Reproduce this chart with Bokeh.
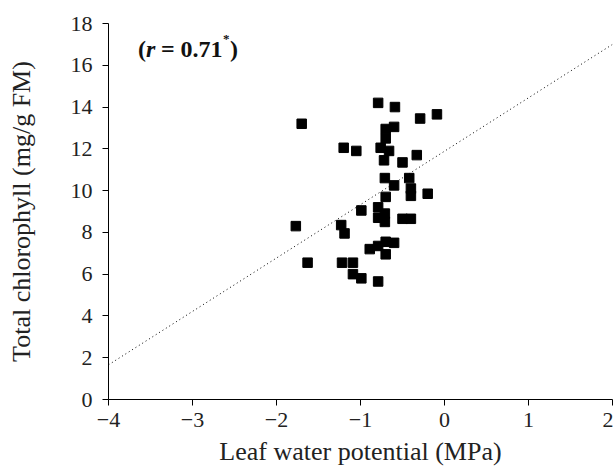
from bokeh.plotting import figure
from bokeh.models import Range1d, FixedTicker, Label
from bokeh.embed import file_html
from bokeh.resources import INLINE

# Data
leaf_wp = [-1.70, -0.79, -0.59, -1.20, -1.05, -0.70, -0.60, -0.70, -0.76, -0.66,
           -0.72, -0.29, -0.09, -0.50, -0.33, -0.71, -0.42, -0.60, -0.40, -0.40,
           -0.20, -0.70, -0.99, -0.79, -0.79, -0.71, -0.71, -1.77, -1.23, -1.19,
           -0.50, -0.40, -1.63, -1.22, -1.09, -1.09, -0.99, -0.79, -0.89, -0.79,
           -0.70, -0.60, -0.70]
chlorophyll = [13.2, 14.2, 14.0, 12.05, 11.9, 12.95, 13.05, 12.5, 12.05, 11.9,
               11.45, 13.45, 13.65, 11.35, 11.7, 10.6, 10.6, 10.25, 10.1, 9.75,
               9.85, 9.7, 9.05, 9.2, 8.7, 8.9, 8.5, 8.3, 8.35, 7.95,
               8.65, 8.65, 6.55, 6.55, 6.55, 6.0, 5.8, 5.65, 7.2, 7.35,
               7.55, 7.5, 6.95]

fit_x = [-4.0, 2.0]
fit_y = [1.66, 17.0]

x_ticks = [-4, -3, -2, -1, 0, 1, 2]
x_tick_labels = ["\u22124", "\u22123", "\u22122", "\u22121", "0", "1", "2"]
y_ticks = [0, 2, 4, 6, 8, 10, 12, 14, 16, 18]

FONT = "Liberation Serif"

p = figure(width=613, height=468, x_range=Range1d(-4, 2), y_range=Range1d(0, 18),
           output_backend="svg", toolbar_location=None,
           min_border_left=108, min_border_right=1, min_border_top=23, min_border_bottom=69)
p.outline_line_color = None
p.grid.visible = False
p.background_fill_color = "white"

p.line(fit_x, fit_y, line_color="black", line_width=1, line_dash="1 3")
p.scatter(leaf_wp, chlorophyll, marker="square", size=9.5, fill_color="black", line_color="black")

for ax in (p.xaxis[0], p.yaxis[0]):
    ax.major_tick_out = 6
    ax.major_tick_in = 0
    ax.minor_tick_out = 0
    ax.minor_tick_in = 0
    ax.axis_line_color = "black"
    ax.major_tick_line_color = "black"
    ax.major_label_text_font = FONT
    ax.major_label_text_font_size = "22px"
    ax.major_label_text_color = "#222222"
    ax.axis_label_text_font = FONT
    ax.axis_label_text_font_size = "26px"
    ax.axis_label_text_font_style = "normal"
    ax.axis_label_text_color = "#222222"

p.xaxis.ticker = FixedTicker(ticks=x_ticks)
p.xaxis.major_label_overrides = {t: l for t, l in zip(x_ticks, x_tick_labels)}
p.yaxis.ticker = FixedTicker(ticks=y_ticks)
p.xaxis.axis_label = "Leaf water potential (MPa)"
p.yaxis.axis_label = "Total chlorophyll (mg/g FM)"
p.xaxis.major_label_standoff = 7
p.xaxis.axis_label_standoff = 7
p.yaxis.major_label_standoff = 10
p.yaxis.axis_label_standoff = 32

# Annotation "(r = 0.71*)"
ax0, ay0 = -3.65, 16.8
parts = [("(", "bold", 0, 0, "24px"),
         ("r", "bold italic", 8, 0, "24px"),
         ("= 0.71", "bold", 23, 0, "24px"),
         ("*", "bold", 85, 10, "13px"),
         (")", "bold", 92, 0, "24px")]
for txt, style, dx, dy, fs in parts:
    p.add_layout(Label(x=ax0, y=ay0, text=txt, x_offset=dx, y_offset=dy,
                       text_font=FONT, text_font_style=style, text_font_size=fs,
                       text_color="#111111", text_baseline="alphabetic"))

open("out.html", "w").write(file_html(p, INLINE))
